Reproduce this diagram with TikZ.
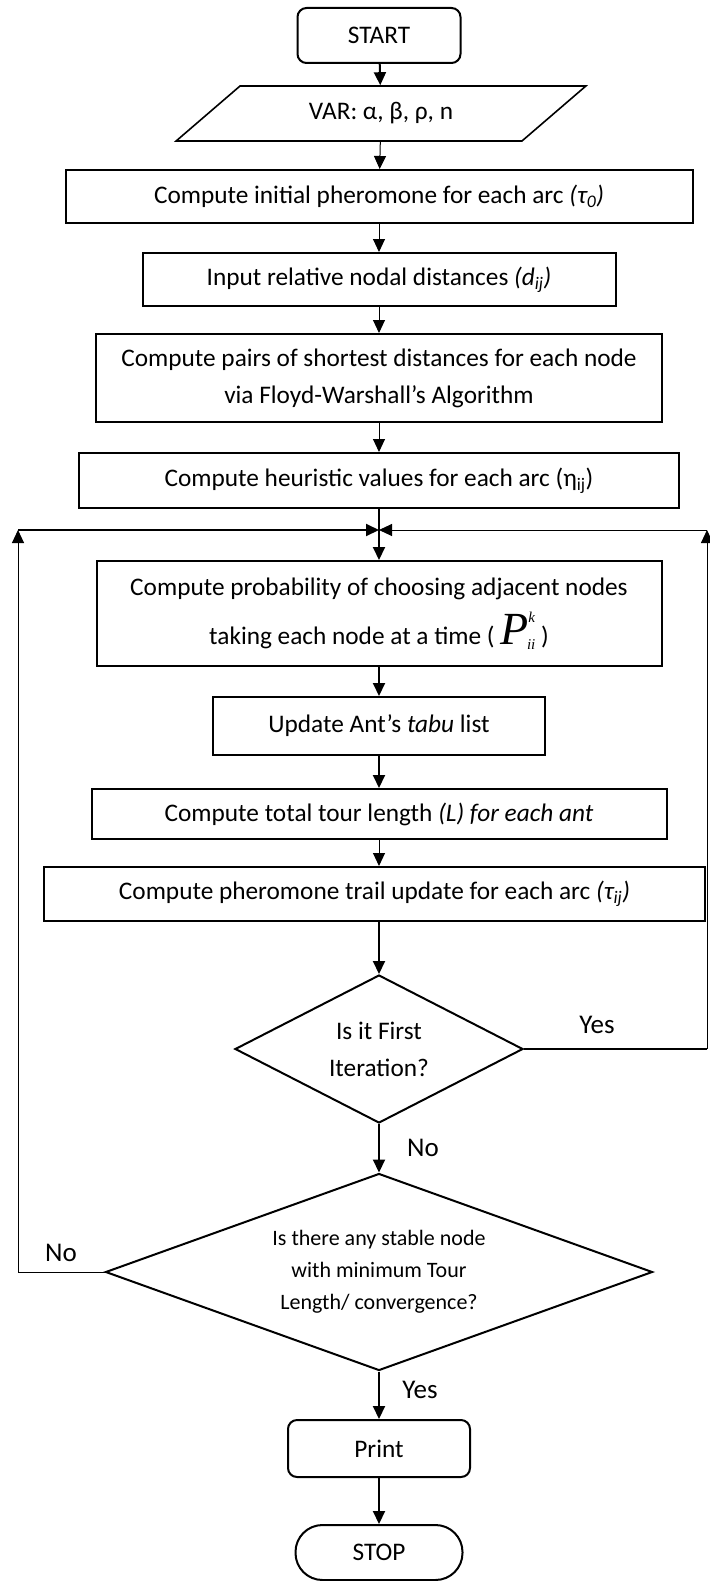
\documentclass[tikz,border=0pt]{standalone}
\usepackage{fontspec}
\setmainfont{Carlito}
\newfontfamily\serifrm{Liberation Serif}
\usepackage{tikz}
\usetikzlibrary{shapes.geometric}
\usetikzlibrary{arrows.meta}

\newcommand{\flowfont}{\fontsize{25.3}{37}\selectfont}
\newcommand{\askfont}{\fontsize{22}{32}\selectfont}
\newcommand{\lblfont}{\fontsize{27}{30}\selectfont}
\newcommand{\probsym}{{\serifrm\itshape\fontsize{46}{46}\selectfont P}\raisebox{22pt}{\serifrm\itshape\fontsize{15}{15}\selectfont k}\hspace{-8pt}\raisebox{-5pt}{\serifrm\itshape\fontsize{15}{15}\selectfont ii}}

\tikzset{
procbox/.style={draw, rectangle, line width=2pt, align=center, inner sep=0pt, font=\flowfont},
termbox/.style={draw, rectangle, line width=2pt, align=center, inner sep=0pt, font=\flowfont},
iobox/.style={draw, trapezium, trapezium left angle=33.5, trapezium right angle=146.5, trapezium stretches=true, line width=1.6pt, inner sep=0pt, font=\flowfont},
decision/.style={draw, diamond, line width=2pt, align=center, inner sep=0pt},
thinarrow/.style={line width=1pt, -{Triangle[length=13pt, width=12pt]}},
thickarrow/.style={line width=2pt, -{Triangle[length=13pt, width=12pt]}},
thinline/.style={line width=1pt},
thickline/.style={line width=2pt},
lbl/.style={font=\lblfont}
}

\begin{document}
\begin{tikzpicture}[x=1pt, y=-1pt]

\useasboundingbox (0,0) rectangle (709,1581);

\node[termbox, rounded corners=9pt, minimum width=163pt, minimum height=55pt] (start) at (379,35.5) {START};
\node[iobox, minimum width=411pt, minimum height=55pt] (var) at (381,113.5) {VAR: α, β, ρ, n};
\node[procbox, minimum width=627pt, minimum height=53pt] (init) at (379,196.5) {Compute initial pheromone for each arc \textit{(τ\textsubscript{0})}};
\node[procbox, minimum width=473pt, minimum height=53pt] (dist) at (379,279.5) {Input relative nodal distances \textit{(d\textsubscript{ij})}};
\node[procbox, minimum width=566pt, minimum height=88pt] (floyd) at (379,378) {Compute pairs of shortest distances for each node\\via Floyd-Warshall’s Algorithm};
\node[procbox, minimum width=600pt, minimum height=55pt] (heur) at (379,480.5) {Compute heuristic values for each arc (η\textsubscript{ij})};

\coordinate (join) at (379,530);
\coordinate (lcorner) at (18,530);
\coordinate (rcorner) at (707,530);

\node[procbox, minimum width=565pt, minimum height=105pt] (prob) at (379,613.5) {Compute probability of choosing adjacent nodes\\[12pt]taking each node at a time ( \probsym{} )};
\node[procbox, minimum width=332pt, minimum height=58pt] (tabu) at (379,726) {Update Ant’s \textit{tabu} list};
\node[procbox, minimum width=575pt, minimum height=50pt] (tour) at (379,814) {Compute total tour length \textit{(L) for each ant}};
\node[procbox, minimum width=661pt, minimum height=54pt] (trail) at (374.5,894) {Compute pheromone trail update for each arc \textit{(τ\textsubscript{ij})}};

\node[decision, shape aspect=1.95, minimum width=288pt, minimum height=148pt, font=\flowfont] (first) at (379,1049) {Is it First\\Iteration?};
\node[decision, shape aspect=2.78, minimum width=547pt, minimum height=197pt, font=\askfont] (stable) at (379,1272) {Is there any stable node\\with minimum Tour\\Length/ convergence?};

\node[termbox, rounded corners=9pt, minimum width=182pt, minimum height=57pt] (print) at (379,1448.5) {Print};
\node[termbox, rounded corners=27pt, minimum width=167pt, minimum height=55pt] (stop) at (379,1552.5) {STOP};

\node[lbl] (yesfirst) at (597,1025) {Yes};
\node[lbl] (nofirst) at (423,1148) {No};
\node[lbl] (nostable) at (61,1253) {No};
\node[lbl] (yesstable) at (420,1390) {Yes};

\draw[thickarrow] (start) -- (var);
\draw[thinarrow] (var) -- (init);
\draw[thinarrow] (init) -- (dist);
\draw[thinarrow] (dist) -- (floyd);
\draw[thinarrow] (floyd) -- (heur);
\draw[thickarrow] (heur) -- (prob);
\draw[thickarrow] (prob) -- (tabu);
\draw[thickarrow] (tabu) -- (tour);
\draw[thinarrow] (tour) -- (trail.north -| tour);
\draw[thickarrow] (trail.south -| first) -- (first);
\draw[thickarrow] (first) -- (stable);
\draw[thickarrow] (stable) -- (print);
\draw[thickarrow] (print) -- (stop);

\draw[thinarrow] (stable.west) -| (lcorner);
\draw[thickarrow] (lcorner) -- (join);
\draw[thickline] (first.east) -- (first.east -| rcorner);
\draw[thinarrow] (first.east -| rcorner) -- (rcorner);
\draw[thinarrow] (rcorner) -- (join);

\end{tikzpicture}
\end{document}
